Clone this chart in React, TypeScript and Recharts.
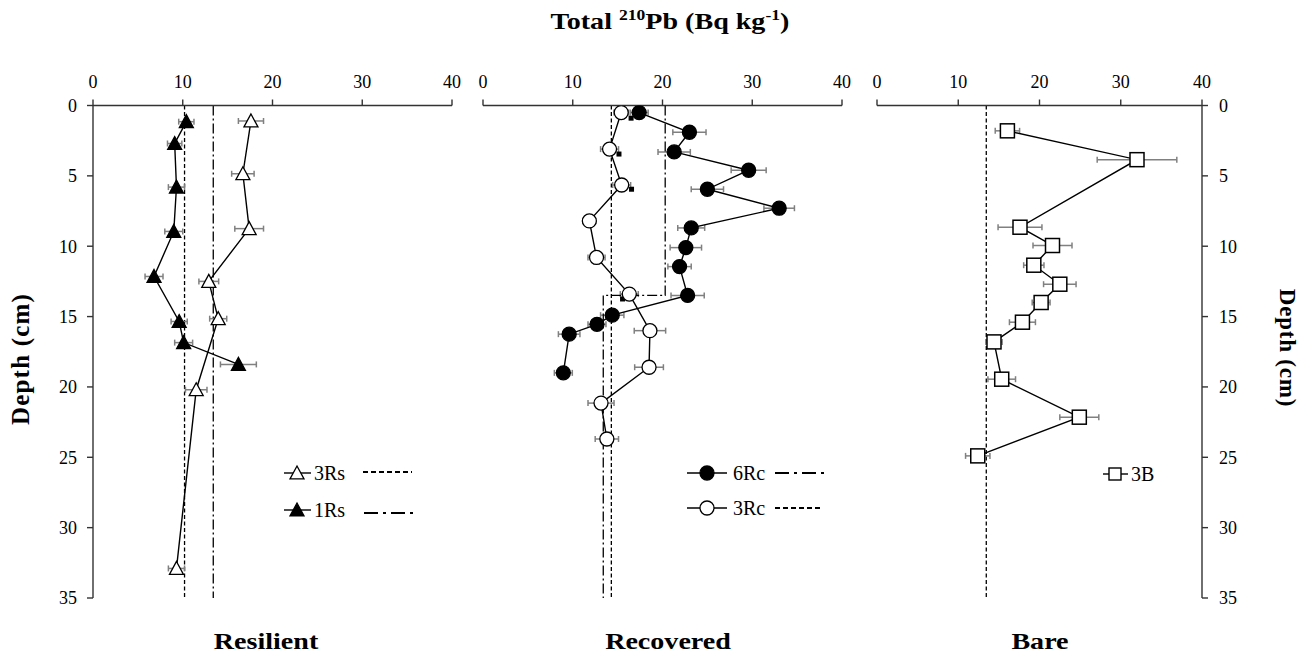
import React from "react";
import { ScatterChart, Scatter, XAxis, YAxis, ErrorBar, ReferenceLine } from "recharts";

const SERIF = '"Liberation Serif", "Times New Roman", serif';
const INK = "#000";
const AXIS = "#333";
const ERR = "#808080";

// Resilient cores: depth (cm), total 210Pb (Bq/kg), +/- error
const depth3Rs = [1.1, 4.85, 8.75, 12.5, 15.15, 20.2, 32.9];
const pb3Rs = [17.6, 16.7, 17.4, 12.9, 13.95, 11.5, 9.3];
const err3Rs = [1.4, 1.25, 1.6, 1.1, 0.95, 1.2, 0.9];

const depth1Rs = [1.15, 2.7, 5.8, 8.95, 12.15, 15.35, 16.85, 18.4];
const pb1Rs = [10.4, 9.1, 9.3, 9.0, 6.8, 9.6, 10.1, 16.2];
const err1Rs = [0.85, 0.8, 0.9, 1.0, 1.0, 0.9, 1.0, 2.0];

// Recovered cores
const depth6Rc = [0.5, 1.9, 3.3, 4.6, 5.95, 7.3, 8.7, 10.1, 11.45, 13.5, 14.9, 15.55, 16.25, 19.0];
const pb6Rc = [17.4, 23.0, 21.3, 29.6, 25.0, 33.0, 23.2, 22.6, 21.9, 22.8, 14.4, 12.7, 9.6, 8.95];
const err6Rc = [1.0, 1.85, 1.8, 1.95, 1.8, 1.7, 1.5, 1.75, 1.3, 1.85, 1.3, 1.0, 1.2, 1.0];

const depth3Rc = [0.5, 3.1, 5.65, 8.2, 10.8, 13.4, 16.0, 18.6, 21.15, 23.7];
const pb3Rc = [15.4, 14.1, 15.45, 11.85, 12.65, 16.3, 18.6, 18.5, 13.15, 13.8];
const err3Rc = [0.8, 1.0, 1.0, 0.7, 0.95, 1.0, 1.75, 1.6, 1.45, 1.3];

// small black marks beside some 3Rc points
const depthMarks = [0.9, 3.45, 5.95, 13.75];
const pbMarks = [16.5, 15.15, 16.55, 15.55];

// Bare core
const depth3B = [1.8, 3.85, 8.65, 9.95, 11.35, 12.7, 14.0, 15.4, 16.8, 19.45, 22.15, 24.9];
const pb3B = [16.05, 32.0, 17.6, 21.6, 19.3, 22.5, 20.2, 17.9, 14.4, 15.35, 24.9, 12.4];
const err3B = [1.5, 4.9, 2.7, 2.4, 1.25, 2.0, 1.1, 1.6, 1.0, 1.7, 2.4, 1.5];

// supported (background) levels
const ref3Rs = 10.2;
const ref1Rs = 13.4;
const ref3Rc = 14.3;
const step6RcPb = [20.3, 20.3, 13.4, 13.4];
const step6RcDepth = [0, 13.5, 13.5, 35];
const ref3B = 13.45;

const xTicks = [0, 10, 20, 30, 40];
const yTicks = [0, 5, 10, 15, 20, 25, 30, 35];

const pts = (xs: number[], ds: number[], es?: number[]) =>
  xs.map((x, i) => ({ x, y: ds[i], err: es ? es[i] : 0 }));

const DASH = "4 2.5";
const DASHDOT = "10 3 2 3";

const triPath = (cx: number, cy: number, r: number) =>
  `M${cx},${cy - r} L${cx + r},${cy + r * 0.85} L${cx - r},${cy + r * 0.85} Z`;

const openTri = (p: any) => <path d={triPath(p.cx, p.cy, 7)} fill="#fff" stroke={INK} strokeWidth={1.3} />;
const fullTri = (p: any) => <path d={triPath(p.cx, p.cy, 7)} fill={INK} stroke={INK} strokeWidth={1.3} />;
const openDot = (p: any) => <circle cx={p.cx} cy={p.cy} r={7} fill="#fff" stroke={INK} strokeWidth={1.3} />;
const fullDot = (p: any) => <circle cx={p.cx} cy={p.cy} r={7} fill={INK} stroke={INK} strokeWidth={1.3} />;
const openSq = (p: any) => <rect x={p.cx - 7} y={p.cy - 7} width={14} height={14} fill="#fff" stroke={INK} strokeWidth={1.5} />;
const tinySq = (p: any) => <rect x={p.cx - 2.5} y={p.cy - 2.5} width={5} height={5} fill={INK} />;
const noShape = () => <g />;

const tickStyle = { fontFamily: SERIF, fontSize: 18, fill: INK };
const seriesLine = { stroke: INK, strokeWidth: 1.4 };

function Title({ x, children }: { x: number; children: React.ReactNode }) {
  return (
    <text x={x} y={649} textAnchor="middle" fontFamily={SERIF} fontWeight="bold" fontSize={24}
      transform={`translate(${x},0) scale(1.17,1) translate(${-x},0)`}>{children}</text>
  );
}

function Legend() {
  const txt = { fontFamily: SERIF, fontSize: 20, fill: INK };
  return (
    <svg width={1309} height={654} style={{ position: "absolute", left: 0, top: 0, pointerEvents: "none" }}>
      <text x={670} y={29} textAnchor="middle" fontFamily={SERIF} fontWeight="bold" fontSize={24}
        transform="translate(670,0) scale(1.17,1) translate(-670,0)">
        Total <tspan fontSize={15} dy={-9}>210</tspan><tspan dy={9}>Pb (Bq kg</tspan>
        <tspan fontSize={15} dy={-9}>-1</tspan><tspan dy={9}>)</tspan>
      </text>
      <Title x={266}>Resilient</Title>
      <Title x={668}>Recovered</Title>
      <Title x={1040}>Bare</Title>
      <text transform="translate(29,359) rotate(-90)" textAnchor="middle" fontFamily={SERIF}
        fontWeight="bold" fontSize={25} letterSpacing={1.2}>Depth (cm)</text>
      <text transform="translate(1280,348) rotate(90)" textAnchor="middle" fontFamily={SERIF}
        fontWeight="bold" fontSize={23} letterSpacing={0.8}>Depth (cm)</text>

      {/* Resilient legend */}
      <line x1={284} x2={311} y1={473} y2={473} stroke={INK} strokeWidth={1.4} />
      {openTri({ cx: 297, cy: 473 })}
      <text x={314} y={480} {...txt}>3Rs</text>
      <line x1={363} x2={412} y1={472} y2={472} stroke={INK} strokeWidth={1.8} strokeDasharray="5 3" />
      <line x1={284} x2={311} y1={510} y2={510} stroke={INK} strokeWidth={1.4} />
      {fullTri({ cx: 297, cy: 510 })}
      <text x={314} y={517} {...txt}>1Rs</text>
      <line x1={364} x2={416} y1={513} y2={513} stroke={INK} strokeWidth={1.8} strokeDasharray="14 5 3 5" />

      {/* Recovered legend */}
      <line x1={687} x2={727} y1={473} y2={473} stroke={INK} strokeWidth={1.4} />
      {fullDot({ cx: 707, cy: 473 })}
      <text x={733} y={480} {...txt}>6Rc</text>
      <line x1={775} x2={827} y1={473} y2={473} stroke={INK} strokeWidth={1.8} strokeDasharray="14 5 3 5" />
      <line x1={687} x2={727} y1={508} y2={508} stroke={INK} strokeWidth={1.4} />
      {openDot({ cx: 707, cy: 508 })}
      <text x={733} y={515} {...txt}>3Rc</text>
      <line x1={775} x2={822} y1={508} y2={508} stroke={INK} strokeWidth={1.8} strokeDasharray="5 3" />

      {/* Bare legend */}
      <line x1={1103} x2={1128} y1={474} y2={474} stroke={INK} strokeWidth={1.4} />
      <rect x={1109} y={468} width={12} height={12} fill="#fff" stroke={INK} strokeWidth={1.4} />
      <text x={1131} y={481} {...txt}>3B</text>
    </svg>
  );
}

export default function App() {
  const data3Rs = pts(pb3Rs, depth3Rs, err3Rs);
  const data1Rs = pts(pb1Rs, depth1Rs, err1Rs);
  const data6Rc = pts(pb6Rc, depth6Rc, err6Rc);
  const data3Rc = pts(pb3Rc, depth3Rc, err3Rc);
  const dataMarks = pts(pbMarks, depthMarks);
  const dataStep = pts(step6RcPb, step6RcDepth);
  const data3B = pts(pb3B, depth3B, err3B);

  const xProps = {
    type: "number" as const, dataKey: "x", orientation: "top" as const, domain: [0, 40], ticks: xTicks,
    height: 30, tick: tickStyle, tickMargin: 12, stroke: AXIS, strokeWidth: 1.4, allowDataOverflow: true,
  };
  const yProps = {
    type: "number" as const, dataKey: "y", domain: [0, 35], ticks: yTicks, reversed: true, width: 60,
    tick: tickStyle, tickMargin: 10, stroke: AXIS, strokeWidth: 1.4, allowDataOverflow: true,
  };

  return (
    <div style={{ position: "absolute", left: 0, top: 0, width: 1309, height: 654, background: "#fff", overflow: "hidden" }}>
      <div style={{ position: "absolute", left: 0, top: 0 }}>
        <ScatterChart width={470} height={654} margin={{ top: 75.5, right: 18, bottom: 56, left: 33 }}>
          <XAxis {...xProps} />
          <YAxis {...yProps} />
          <ReferenceLine x={ref3Rs} stroke={INK} strokeWidth={1.3} strokeDasharray={DASH} />
          <ReferenceLine x={ref1Rs} stroke={INK} strokeWidth={1.3} strokeDasharray={DASHDOT} />
          <Scatter data={data3Rs} shape={openTri} line={seriesLine} lineType="joint" isAnimationActive={false}>
            <ErrorBar dataKey="err" direction="x" width={3} stroke={ERR} strokeWidth={1.5} />
          </Scatter>
          <Scatter data={data1Rs} shape={fullTri} line={seriesLine} lineType="joint" isAnimationActive={false}>
            <ErrorBar dataKey="err" direction="x" width={3} stroke={ERR} strokeWidth={1.5} />
          </Scatter>
        </ScatterChart>
      </div>

      <div style={{ position: "absolute", left: 470, top: 0 }}>
        <ScatterChart width={390} height={654} margin={{ top: 75.5, right: 18, bottom: 56, left: 13 }}>
          <XAxis {...xProps} />
          <YAxis {...yProps} hide />
          <ReferenceLine x={ref3Rc} stroke={INK} strokeWidth={1.3} strokeDasharray={DASH} />
          <Scatter data={dataStep} shape={noShape} line={{ stroke: INK, strokeWidth: 1.3, strokeDasharray: DASHDOT }}
            lineType="joint" isAnimationActive={false} />
          <Scatter data={dataMarks} shape={tinySq} isAnimationActive={false} />
          <Scatter data={data3Rc} shape={openDot} line={seriesLine} lineType="joint" isAnimationActive={false}>
            <ErrorBar dataKey="err" direction="x" width={3} stroke={ERR} strokeWidth={1.5} />
          </Scatter>
          <Scatter data={data6Rc} shape={fullDot} line={seriesLine} lineType="joint" isAnimationActive={false}>
            <ErrorBar dataKey="err" direction="x" width={3} stroke={ERR} strokeWidth={1.5} />
          </Scatter>
        </ScatterChart>
      </div>

      <div style={{ position: "absolute", left: 860, top: 0 }}>
        <ScatterChart width={420} height={654} margin={{ top: 75.5, right: 18, bottom: 56, left: 17 }}>
          <XAxis {...xProps} />
          <YAxis {...yProps} orientation="right" tickMargin={11} />
          <ReferenceLine x={ref3B} stroke={INK} strokeWidth={1.3} strokeDasharray={DASH} />
          <Scatter data={data3B} shape={openSq} line={seriesLine} lineType="joint" isAnimationActive={false}>
            <ErrorBar dataKey="err" direction="x" width={3} stroke={ERR} strokeWidth={1.5} />
          </Scatter>
        </ScatterChart>
      </div>

      <Legend />
    </div>
  );
}
